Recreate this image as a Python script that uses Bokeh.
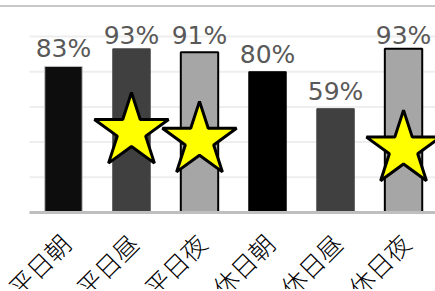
import numpy as np
from bokeh.plotting import figure
from bokeh.models import ColumnDataSource, Range1d
from bokeh.embed import file_html
from bokeh.resources import INLINE
from bokeh.core.properties import value

# ---- data ----
categories = ["平日朝", "平日昼", "平日夜", "休日朝", "休日昼", "休日夜"]
percents = [83, 93, 91, 80, 59, 93]
star_index = [1, 2, 5]
star_level = [46, 41, 36]
grid_levels = [20, 40, 60, 80, 100]

# ---- styles ----
bar_fill = ["#0d0d0d", "#404040", "#a6a6a6", "#000000", "#404040", "#a6a6a6"]
bar_line = ["#bfbfbf", "#404040", "#000000", "#000000", "#404040", "#000000"]
bar_lw = [1, 1, 2, 1, 1, 2]

n = len(categories)
x = np.arange(n)
label_y = np.minimum(np.array(percents, dtype=float) + 10.0, 100.5)

src = ColumnDataSource(dict(
    x=x, top=percents, fill=bar_fill, line=bar_line, lw=bar_lw,
    ly=label_y, txt=[f"{v}%" for v in percents], cat=categories,
    zero=np.zeros(n),
))

x_start, x_end = -0.926, 5.47
p = figure(width=435, height=284, output_backend="svg", toolbar_location=None,
           x_range=Range1d(x_start, x_end), y_range=Range1d(-44.9, 116.5),
           min_border=0)
p.outline_line_color = None
p.styles = {"margin-top": "5px", "border-top": "2px solid #c8c8c8"}
p.xaxis.visible = False
p.yaxis.visible = False
p.xgrid.visible = False
p.ygrid.visible = False

# horizontal grid lines, starting at the left edge of the first category slot
p.segment(x0=-0.5, x1=x_end, y0=grid_levels, y1=grid_levels,
          line_color="#eeeeee", line_width=2)

p.vbar(x="x", top="top", bottom=0, width=0.55, fill_color="fill",
       line_color="line", line_width="lw", source=src)

# baseline (category axis line)
p.segment(x0=[-0.5], x1=[x_end], y0=[0], y1=[0], line_color="#bfbfbf", line_width=3)

p.text(x="x", y="ly", text="txt", text_align="center", text_baseline="alphabetic",
       text_font=value("DejaVu Sans"), text_font_size="25px", text_color="#595959",
       source=src)

p.scatter(x=[x[i] for i in star_index], y=star_level, marker="star", size=78,
          fill_color="#ffff00", line_color="black", line_width=3)

p.text(x="x", y="zero", text="cat", source=src, angle=np.pi / 4,
       text_align="right", text_baseline="top", x_offset=-11, y_offset=13,
       text_font=value("'Noto Sans CJK JP Light', 'Noto Sans CJK JP'"),
       text_font_size="25px", text_color="black")

open("out.html", "w").write(file_html(p, INLINE))
